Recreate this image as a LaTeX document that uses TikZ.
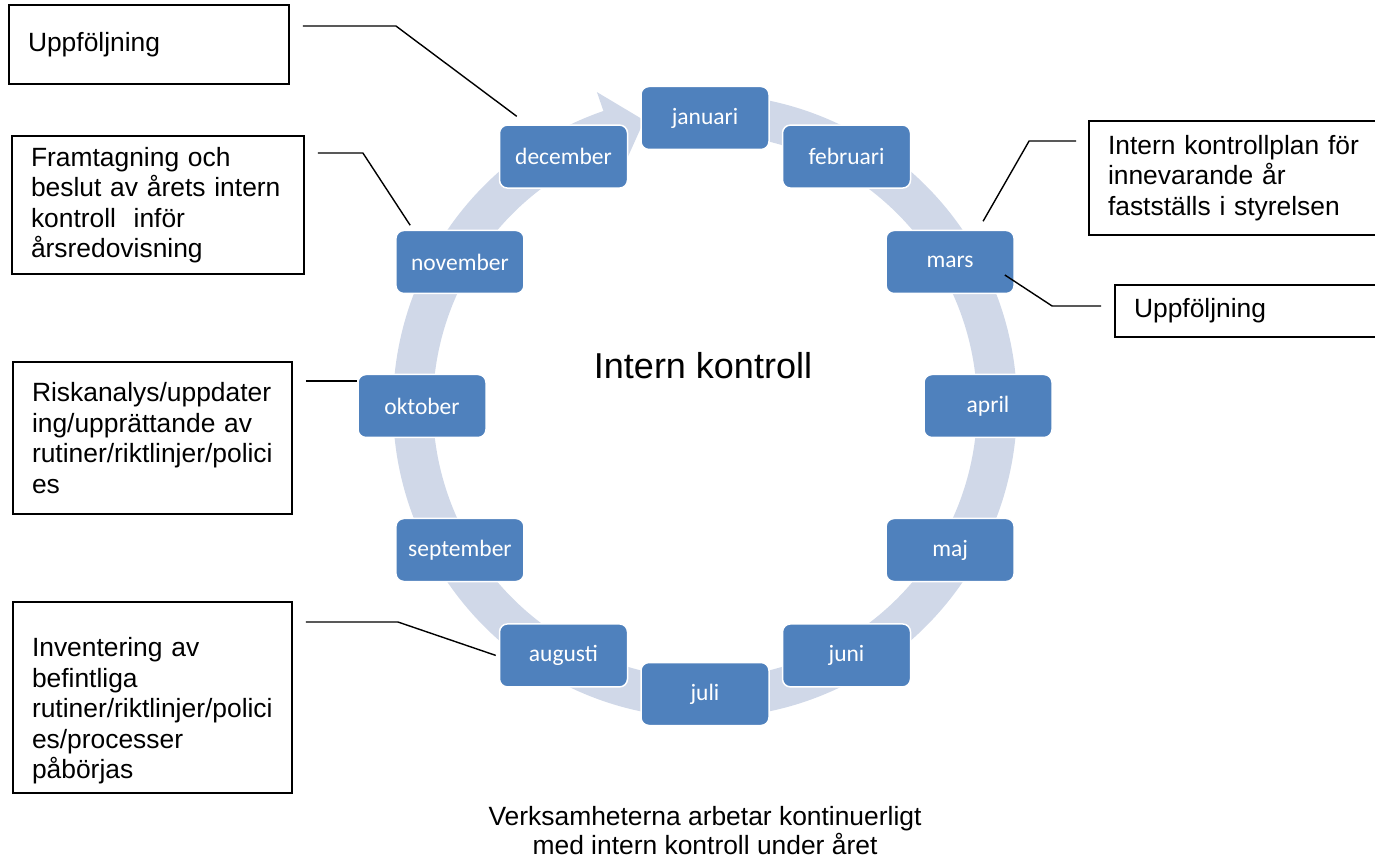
\documentclass[tikz,border=0pt]{standalone}
\usepackage{fontspec}
\setmainfont{Liberation Sans}
\newfontfamily\calibrifont{Carlito}
\usepackage{xcolor}
\usepackage{tikz}
\definecolor{ringblue}{HTML}{D0D8E8}
\definecolor{monthblue}{HTML}{4F81BD}
\hyphenpenalty=10000
\exhyphenpenalty=10000

\begin{document}
\begin{tikzpicture}[x=1pt,y=1pt,
  monthbox/.style={draw=white,line width=1.5pt,fill=monthblue,rounded corners=8pt,
    minimum width=128pt,minimum height=63pt,text=white,
    font=\calibrifont\fontsize{23.5}{28}\selectfont},
  notebox/.style={draw,line width=1.8pt,fill=white,align=left,inner xsep=19pt,
    inner ysep=0pt,font=\fontsize{26.4}{30.4}\selectfont},
  leader/.style={line width=1.4pt}]
\useasboundingbox (0,0) rectangle (1375,860);

% Ring arrow with the months on it
\begin{scope}[shift={(705,454)}]
\fill[ringblue] (88:312) arc[start angle=88,end angle=-251,radius=312]
  -- (109:332) -- (102:292) -- (109:252) -- (109:272)
  arc[start angle=-251,end angle=88,radius=272] -- cycle;
\foreach \m [count=\i from 0] in {januari,februari,mars,april,maj,juni,juli,augusti,september,oktober,november,december}
  \node[monthbox] (\m) at ({90-30*\i}:283 and 288) {\m};
\end{scope}

\node[font=\fontsize{36}{43}\selectfont] (title) at (703,494) {Intern kontroll};

% Notes on the left
\node[notebox,text width=242pt,minimum height=79pt] (follow) at (149,815.5) {Uppföljning};
\node[notebox,text width=254pt,minimum height=138pt] (decision) at (158,655)
  {Framtagning och\\beslut av årets intern\\kontroll\ \ inför\\årsredovisning};
\node[notebox,text width=241pt,minimum height=152pt] (risk) at (152.5,422)
  {Riskanalys/uppdater\\ing/upprättande av\\rutiner/riktlinjer/polici\\es};
\node[notebox,text width=241pt,minimum height=191pt] (inventory) at (152.5,162.5)
  {\rule{0pt}{46pt}Inventering av\\befintliga\\rutiner/riktlinjer/polici\\es/processer\\påbörjas};

% Notes on the right
\node[notebox,text width=258pt,minimum height=114pt] (plan) at (1237,682)
  {Intern kontrollplan för\\innevarande år\\fastställs i styrelsen};
\node[notebox,text width=232pt,minimum height=52pt] (followup) at (1250,549) {Uppföljning};

\draw[leader] ([shift={(13,18.5)}]follow.east) -- ++(93,0) -- ([shift={(18,8)}]december.north west);
\draw[leader] ([shift={(13,52)}]decision.east) -- ++(45,0) -- ([shift={(15,4.5)}]november.north west);
\draw[leader] ([shift={(13,57)}]risk.east) -- ([yshift=25pt]oktober.west);
\draw[leader] ([shift={(13,75.5)}]inventory.east) -- ++(92,0) -- ([xshift=-3pt]augusti.west);
\draw[leader] ([shift={(-12,37)}]plan.west) -- ++(-47,0) -- ([shift={(33,8.5)}]mars.north);
\draw[leader] ([shift={(-13,5)}]followup.west) -- ++(-49,0) -- ([shift={(-10,-13)}]mars.east);

\node[align=center,font=\fontsize{26.4}{29}\selectfont] (caption) at (705,29)
  {Verksamheterna arbetar kontinuerligt\\med intern kontroll under året};
\end{tikzpicture}
\end{document}
